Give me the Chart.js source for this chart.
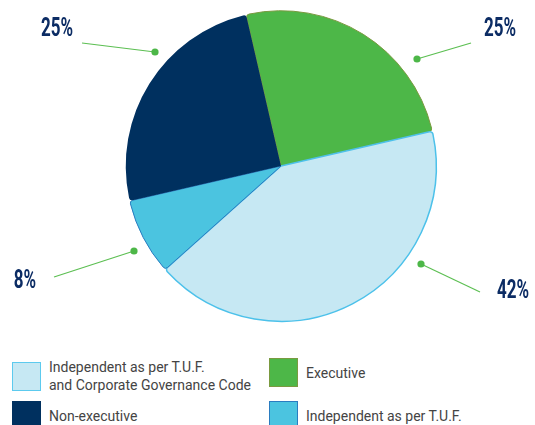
<!DOCTYPE html>
<html>
<head>
<meta charset="utf-8">
<script src="https://cdn.jsdelivr.net/npm/chart.js@4"></script>
<style>
  html, body { margin: 0; padding: 0; background: #fff; }
  #wrap { position: relative; width: 535px; height: 425px; overflow: hidden; }
  #chartBox { position: absolute; left: 0; top: 0; width: 535px; height: 332px; }
  .legend { position: absolute; left: 0; top: 0; width: 535px; font-family: Roboto, "Noto Sans", sans-serif; font-size: 14px; color: #444; white-space: nowrap; }
  .item { position: absolute; display: flex; align-items: center; }
  .box { width: 27px; height: 27px; border: 1.5px solid; box-sizing: content-box; margin-right: 8px; flex: none; }
  .txt { line-height: 18px; }
</style>
</head>
<body>
<div id="wrap">
  <div id="chartBox"><canvas id="pieChart"></canvas></div>
  <div class="legend" id="legend"></div>
</div>
<script>
// slices, clockwise from the top
const labels = ['Executive', 'Independent as per T.U.F.\nand Corporate Governance Code', 'Independent as per T.U.F.', 'Non-executive'];
const values = [25, 42, 8, 25];
const colors = ['#4db748', '#c6e8f3', '#4bc4e0', '#00305f'];
const borders = ['#7a9a40', '#4cc1ea', '#2a7cc0', '#00305f'];

// legend is laid out row by row: index into the slices
const legendOrder = [1, 0, 3, 2];

/* ── percent call-outs ── */
const calloutPlugin = {
    id: 'callouts',
    afterDatasetsDraw(chart) {
        const ctx = chart.ctx;
        const arc = chart.getDatasetMeta(0).data[0];
        const cx = arc.x, cy = arc.y;
        // dot, line end, text centre (offset from pie centre)
        const spots = [
            [[136, -107], [190, -123], [219, -137]],
            [[140, 98], [199, 126], [232, 125]],
            [[-147, 85], [-227, 111], [-256, 115]],
            [[-126, -114], [-199, -123], [-224, -137]]
        ];
        ctx.save();
        spots.forEach((s, i) => {
            ctx.strokeStyle = '#5cbf52';
            ctx.lineWidth = 1.2;
            ctx.beginPath();
            ctx.moveTo(cx + s[0][0], cy + s[0][1]);
            ctx.lineTo(cx + s[1][0], cy + s[1][1]);
            ctx.stroke();
            ctx.fillStyle = '#4db748';
            ctx.beginPath();
            ctx.arc(cx + s[0][0], cy + s[0][1], 3.6, 0, Math.PI * 2);
            ctx.fill();

            ctx.save();
            ctx.translate(cx + s[2][0], cy + s[2][1]);
            ctx.scale(0.68, 1);
            ctx.fillStyle = '#0c2c64';
            ctx.font = 'bold 25px Roboto, sans-serif';
            ctx.textAlign = 'center';
            ctx.textBaseline = 'middle';
            ctx.fillText(values[i] + '%', 0, 1);
            ctx.restore();
        });
        ctx.restore();
    }
};

new Chart(document.getElementById('pieChart'), {
    type: 'pie',
    data: {
        labels: labels,
        datasets: [{
            data: values,
            backgroundColor: colors,
            borderColor: borders,
            borderWidth: [1, 1.5, 1, 0],
            borderRadius: { outerStart: 3, outerEnd: 3, innerStart: 0, innerEnd: 0 }
        }]
    },
    options: {
        responsive: true,
        maintainAspectRatio: false,
        animation: false,
        rotation: -13,
        layout: { padding: { left: 27, top: 10, bottom: 10 } },
        plugins: {
            legend: { display: false },
            tooltip: { enabled: false }
        }
    },
    plugins: [calloutPlugin]
});

/* ── legend ── */
const legend = document.getElementById('legend');
const spotsLegend = [[12, 358], [269, 358], [12, 401], [269, 401]];
legend.innerHTML = legendOrder.map((idx, k) => {
    return `
        <div class="item" style="left:${spotsLegend[k][0]}px; top:${spotsLegend[k][1]}px;">
            <div class="box" style="background:${colors[idx]}; border-color:${idx == 1 ? '#5ccaee' : borders[idx]};"></div>
            <div class="txt">${labels[idx].replace('\n', '<br>')}</div>
        </div>`;
}).join('');
</script>
</body>
</html>
